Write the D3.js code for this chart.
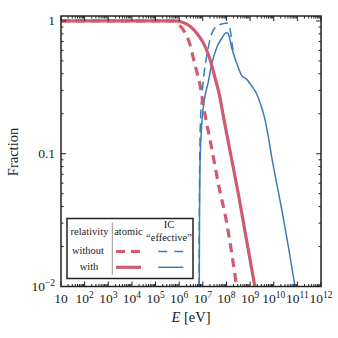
<!DOCTYPE html>
<html lang="en">
<head>
<meta charset="UTF-8">
<title>Fraction vs energy</title>
<style>
  body { margin: 0; background: #fff; }
</style>
<script src="https://d3js.org/d3.v7.min.js"></script>
</head>
<body>
<script>
// curves: log10(E/eV) and log10(fraction)
var atomicWithoutLogE = [1, 5.75, 5.92, 6.1, 6.25, 6.46, 6.6, 6.74, 6.88, 7.02, 7.16, 7.3, 7.47, 7.65, 8.01, 8.43];
var atomicWithoutLogF = [0, 0, -0.02, -0.05, -0.09, -0.18, -0.28, -0.38, -0.48, -0.63, -0.77, -0.89, -1.05, -1.22, -1.52, -2.0];

var atomicWithLogE = [1, 5.8, 6.1, 6.3, 6.46, 6.74, 7.02, 7.23, 7.37, 7.52, 7.73, 7.8, 8.0, 8.5, 9.2];
var atomicWithLogF = [0, 0, -0.008, -0.022, -0.04, -0.09, -0.165, -0.25, -0.33, -0.43, -0.58, -0.65, -0.84, -1.3, -2.0];

var icWithoutLogE = [6.84, 6.85, 6.87, 6.9, 6.97, 7.05, 7.13, 7.23, 7.33, 7.52, 7.87, 8.04, 8.12, 8.18, 8.22, 8.28];
var icWithoutLogF = [-2.0, -1.5, -1.05, -0.75, -0.55, -0.4, -0.3, -0.2, -0.12, -0.05, -0.02, -0.015, -0.04, -0.09, -0.15, -0.22];

var icWithLogE = [6.85, 6.86, 6.88, 6.93, 7.0, 7.1, 7.23, 7.37, 7.59, 7.8, 7.98, 8.06, 8.12, 8.22, 8.36, 8.5, 8.64, 8.86, 9.07, 9.28, 9.45, 9.6, 9.77, 9.91, 10.1, 10.34, 10.62, 10.9];
var icWithLogF = [-2.0, -1.5, -1.1, -0.85, -0.68, -0.56, -0.46, -0.33, -0.2, -0.13, -0.09, -0.09, -0.12, -0.2, -0.28, -0.35, -0.41, -0.44, -0.49, -0.55, -0.63, -0.72, -0.87, -1.02, -1.2, -1.42, -1.7, -2.0];

var xTickExps = [1, 2, 3, 4, 5, 6, 7, 8, 9, 10, 11, 12];
var yTicks = [1, 0.1, 0.01];
var yTickLabels = [["1", ""], ["0.1", ""], ["10", "\u22122"]];

var red = "#d05a70", blue = "#3d7ab8";

var width = 338, height = 338;
var pL = 61, pR = 321, pT = 16, pB = 286.5;

var svg = d3.select("body").append("svg")
    .attr("width", width)
    .attr("height", height)
    .attr("font-family", "'Liberation Serif', 'DejaVu Serif', serif")
    .attr("fill", "#222");

var x = d3.scaleLog().domain([10, 1e12]).range([pL, pR]);
var y = d3.scaleLog().domain([0.01, 1.09]).range([pB, pT]);

function toPoints(logE, logF) {
    return logE.map(function(e, i) { return [Math.pow(10, e), Math.pow(10, logF[i])]; });
}

var line = d3.line()
    .x(d => x(d[0]))
    .y(d => y(d[1]))
    .curve(d3.curveMonotoneX);

svg.append("clipPath").attr("id", "clip")
    .append("rect").attr("x", pL).attr("y", pT)
    .attr("width", pR - pL).attr("height", pB - pT);

var plot = svg.append("g").attr("clip-path", "url(#clip)");

var series = [
    {pts: toPoints(icWithLogE, icWithLogF), color: blue, w: 1.5, dash: null},
    {pts: toPoints(icWithoutLogE, icWithoutLogF), color: blue, w: 1.5, dash: "9,5"},
    {pts: toPoints(atomicWithoutLogE, atomicWithoutLogF), color: red, w: 3.2, dash: "9,6"},
    {pts: toPoints(atomicWithLogE, atomicWithLogF), color: red, w: 3.2, dash: null}
];

series.forEach(function(s) {
    plot.append("path")
        .attr("d", line(s.pts))
        .attr("fill", "none")
        .attr("stroke", s.color)
        .attr("stroke-width", s.w)
        .attr("stroke-dasharray", s.dash);
});

// ticks (inward, all four sides)
var ticks = svg.append("g").attr("stroke", "#222").attr("stroke-width", 1);
for (var e = 1; e <= 12; e++) {
    for (var m = 1; m <= 9; m++) {
        var v = m * Math.pow(10, e);
        if (v > 1e12) break;
        var len = m === 1 ? 5 : 2.5;
        var px = x(v);
        ticks.append("line").attr("x1", px).attr("x2", px).attr("y1", pB).attr("y2", pB - len);
        ticks.append("line").attr("x1", px).attr("x2", px).attr("y1", pT).attr("y2", pT + len);
    }
}
[0.01, 0.1, 1].forEach(function(dec) {
    for (var m = 1; m <= 9; m++) {
        var v = m * dec;
        if (v > 1.09) break;
        var len = m === 1 ? 5 : 2.5;
        var py = y(v);
        ticks.append("line").attr("x1", pL).attr("x2", pL + len).attr("y1", py).attr("y2", py);
        ticks.append("line").attr("x1", pR).attr("x2", pR - len).attr("y1", py).attr("y2", py);
    }
});

svg.append("rect")
    .attr("x", pL).attr("y", pT)
    .attr("width", pR - pL).attr("height", pB - pT)
    .attr("fill", "none").attr("stroke", "#222").attr("stroke-width", 1.5);

// x tick labels
xTickExps.forEach(function(p) {
    var t = svg.append("text")
        .attr("x", x(Math.pow(10, p)))
        .attr("y", 303)
        .attr("text-anchor", "middle")
        .style("font-size", "13.5px");
    t.append("tspan").text("10");
    if (p > 1) t.append("tspan").attr("dy", -5.5).style("font-size", "9.5px").text(p);
});

// y tick labels
yTicks.forEach(function(v, i) {
    var t = svg.append("text")
        .attr("x", 55)
        .attr("y", y(v) + 4.5)
        .attr("text-anchor", "end")
        .style("font-size", "13.5px");
    t.append("tspan").text(yTickLabels[i][0]);
    if (yTickLabels[i][1]) t.append("tspan").attr("dy", -5.5).style("font-size", "9.5px").text(yTickLabels[i][1]);
});

// axis titles
svg.append("text")
    .attr("transform", "translate(18,152) rotate(-90)")
    .attr("text-anchor", "middle")
    .style("font-size", "14.5px")
    .text("Fraction");

var xt = svg.append("text")
    .attr("x", 191).attr("y", 322)
    .attr("text-anchor", "middle")
    .style("font-size", "14.5px");
xt.append("tspan").style("font-style", "italic").text("E");
xt.append("tspan").text(" [eV]");

// legend
var lg = svg.append("g");
lg.append("rect")
    .attr("x", 67).attr("y", 218.5).attr("width", 126).attr("height", 60)
    .attr("fill", "#fff").attr("stroke", "#222").attr("stroke-width", 1.5);
lg.append("line")
    .attr("x1", 112.3).attr("x2", 112.3).attr("y1", 222.5).attr("y2", 275)
    .attr("stroke", "#999").attr("stroke-width", 1);

var legendText = [
    ["relativity", 89.5, 235],
    ["atomic", 128.5, 235],
    ["IC", 169, 228.3],
    ["\u201Ceffective\u201D", 169, 240.7],
    ["without", 88, 254.3],
    ["with", 89, 270]
];
legendText.forEach(function(d) {
    lg.append("text")
        .attr("x", d[1]).attr("y", d[2])
        .attr("text-anchor", "middle")
        .style("font-size", "10.5px")
        .text(d[0]);
});

var legendLines = [
    [116, 141, 251.5, red, 3.2, "9,6"],
    [116, 141, 267.3, red, 3.2, null],
    [158.3, 183.3, 251.5, blue, 1.5, "9,7"],
    [158.3, 183.3, 267.3, blue, 1.5, null]
];
legendLines.forEach(function(d) {
    lg.append("line")
        .attr("x1", d[0]).attr("x2", d[1]).attr("y1", d[2]).attr("y2", d[2])
        .attr("stroke", d[3]).attr("stroke-width", d[4])
        .attr("stroke-dasharray", d[5]);
});
</script>
</body>
</html>
